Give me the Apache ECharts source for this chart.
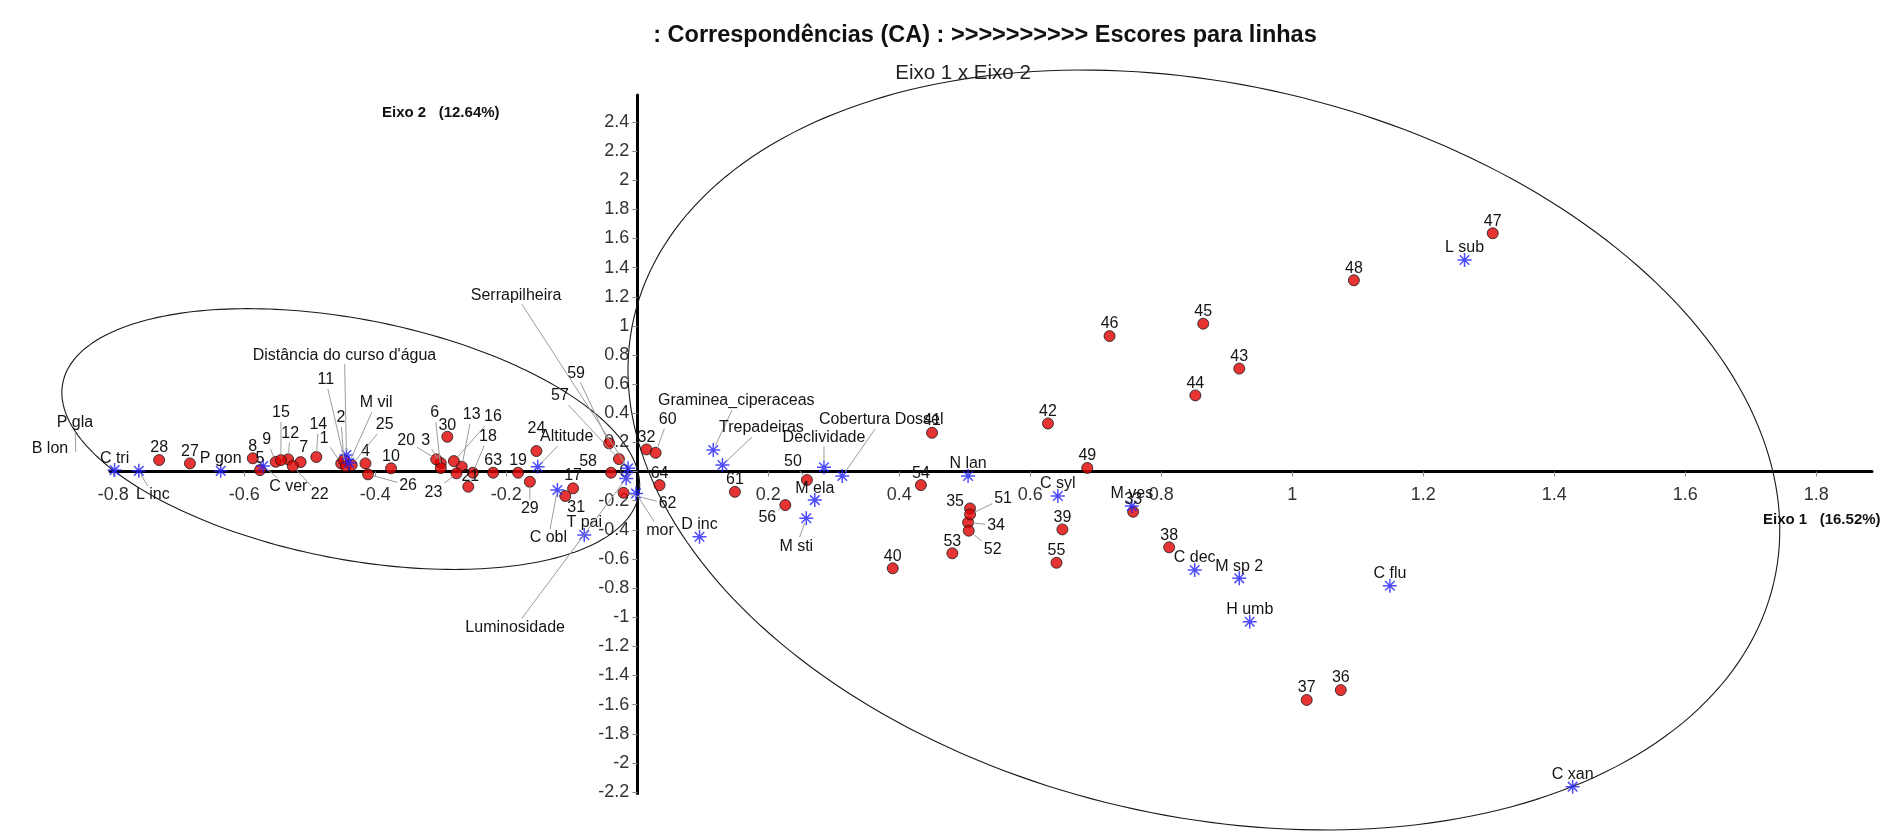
<!DOCTYPE html>
<html>
<head>
<meta charset="utf-8">
<title>Correspondências (CA) — Escores para linhas</title>
<script src="https://cdn.jsdelivr.net/npm/echarts@6/dist/echarts.min.js"></script>
<style>
  html, body { margin: 0; padding: 0; background: #ffffff; }
  #chart { width: 1903px; height: 832px; }
</style>
</head>
<body>
<div id="chart"></div>
<script>
// ---- Row scores (sampling sites) on CA axes 1 and 2 ----
const siteNames = ['1','2','3','4','5','6','7','8','9','10','11','12','13','14','15','16',
  '17','18','19','20','21','22','23','24','25','26','27','28','29','30','31','32',
  '33','34','35','36','37','38','39','40','41','42','43','44','45','46','47','48',
  '49','50','51','52','53','54','55','56','57','58','59','60','61','62','63','64'];
const siteAxis1 = [-0.452,-0.448,-0.300,-0.415,-0.576,-0.300,-0.514,-0.587,-0.552,-0.376,-0.445,-0.533,-0.268,-0.490,-0.544,-0.280,
  -0.098,-0.251,-0.182,-0.307,-0.258,-0.526,-0.276,-0.154,-0.436,-0.411,-0.683,-0.730,-0.164,-0.290,-0.110,0.014,
  0.757,0.505,0.508,1.074,1.022,0.812,0.649,0.390,0.450,0.627,0.919,0.852,0.864,0.721,1.306,1.094,
  0.687,0.259,0.508,0.506,0.481,0.433,0.640,0.226,-0.028,-0.040,-0.043,0.028,0.149,-0.021,-0.220,0.034];
const siteAxis2 = [0.056,0.079,0.058,0.056,0.010,0.024,0.065,0.091,0.067,0.022,0.038,0.084,0.033,0.100,0.079,0.072,
  -0.115,-0.008,-0.008,0.084,-0.104,0.038,-0.012,0.141,0.045,-0.019,0.056,0.079,-0.070,0.239,-0.168,0.152,
  -0.276,-0.349,-0.253,-1.500,-1.568,-0.520,-0.397,-0.664,0.266,0.330,0.707,0.523,1.015,0.930,1.636,1.313,
  0.025,-0.058,-0.294,-0.406,-0.561,-0.093,-0.626,-0.230,0.086,-0.008,0.194,0.129,-0.139,-0.146,-0.008,-0.093];

// ---- Column scores (species and environmental variables) ----
const varNames = ['C tri','L inc','P gon','C ver','P gla','B lon',"Distância do curso d'água",'M vil',
  'Altitude','C obl','T pai','Serrapilheira','Luminosidade','mor','Graminea_ciperaceas','Trepadeiras',
  'D inc','Declividade','Cobertura Dossel','M ela','M sti','N lan','C syl','M ves','C dec','M sp 2',
  'C flu','H umb','C xan','L sub'];
const varAxis1 = [-0.798,-0.761,-0.636,-0.571,-0.857,-0.857,-0.444,-0.440,
  -0.152,-0.122,-0.081,-0.014,-0.017,-0.002,0.116,0.130,
  0.095,0.285,0.313,0.271,0.258,0.505,0.642,0.755,0.851,0.919,
  1.149,0.935,1.428,1.263];
const varAxis2 = [0.010,0.005,0.005,0.038,0.100,0.100,0.113,0.060,
  0.033,-0.127,-0.436,0.022,-0.047,-0.150,0.148,0.045,
  -0.448,0.029,-0.031,-0.196,-0.321,-0.031,-0.168,-0.237,-0.676,-0.733,
  -0.784,-1.031,-2.163,1.452];

// ---- Group ellipses: centre and two conjugate semi-axis vectors (axis units) ----
const ellipseCentreX = [-0.4374, 0.865];
const ellipseCentreY = [0.2231, 0.148];
const ellipseMajor   = [[0.4397, -0.3842], [0.870, -0.911]];
const ellipseMinor   = [[-0.0350, -0.8085], [-0.127, -2.444]];

// ---- Axis extents and tick labels ----
const xMin = -0.805, xMax = 1.885, yMin = -2.21, yMax = 2.585;
const xTicks = [-0.8,-0.6,-0.4,-0.2,0.2,0.4,0.6,0.8,1,1.2,1.4,1.6,1.8];
const yTicks = [2.4,2.2,2,1.8,1.6,1.4,1.2,1,0.8,0.6,0.4,0.2,0,-0.2,-0.4,-0.6,-0.8,-1,-1.2,-1.4,-1.6,-1.8,-2,-2.2];

// ---- Label placement: [dx, dy, leader line] in pixels from the mark ----
const labelPlacement = {
  '9': [-9,-22,1], '15': [0,-47,1], '12': [2,-26,1], '7': [3,-15,0], '14': [2,-32,1],
  '1': [-17,-25,1], '11': [-20,-86,1], '2': [-3,-42,1], "Distância do curso d'água": [-2,-100,1],
  'M vil': [27,-60,1], '25': [33,-40,1], '26': [40,11,1], '22': [27,29,1], '20': [-30,-19,1],
  '3': [-15,-23,1], '6': [-6,-55,1], '30': [0,-11,0], '13': [10,-52,1], '16': [39,-44,1],
  '18': [15,-36,1], '23': [-23,19,1], '29': [0,27,1], '24': [0,-22,0], 'Altitude': [29,-30,1],
  '58': [-23,-11,0], '31': [11,12,0], 'C obl': [-9,48,1], '59': [-33,-70,1], '57': [-59,-63,1],
  'Serrapilheira': [-112,-173,1], 'Luminosidade': [-111,149,1], 'mor': [24,37,1], '62': [44,11,1],
  '60': [12,-33,1], 'Graminea_ciperaceas': [23,-49,1], 'Trepadeiras': [39,-37,1], '56': [-18,13,1],
  '50': [-14,-18,1], 'M sti': [-10,28,1], 'Declividade': [0,-30,1], 'Cobertura Dossel': [39,-56,1],
  '35': [-15,-7,0], '51': [33,-16,1], '34': [28,3,1], '52': [24,19,1], 'L inc': [14,24,1],
  'C ver': [25,21,1], 'P gla': [-1,-34,1], 'B lon': [-26,-8,0], '17': [0,-13,0], '21': [2,-10,0]
};
const defaultPlacement = [0, -12, 0];

const FONT_FAMILY = '"Liberation Sans", Arial, Helvetica, sans-serif';
const LABEL_FONT = '16px ' + FONT_FAMILY;

// plot area (pixels)
const GRID = { left: 110, right: 31, top: 95, bottom: 38.5 };
const PLOT_W = 1903 - GRID.left - GRID.right;
const PLOT_H = 832 - GRID.top - GRID.bottom;
// shift each axis from the plot edge onto the other axis' zero
const xAxisShift = -((0 - yMin) / (yMax - yMin)) * PLOT_H;
const yAxisShift = -((0 - xMin) / (xMax - xMin)) * PLOT_W;

const measureCtx = document.createElement('canvas').getContext('2d');
measureCtx.font = LABEL_FONT;

const sitePoints = siteNames.map((n, i) => [siteAxis1[i], siteAxis2[i]]);
const varPoints = varNames.map((n, i) => [varAxis1[i], varAxis2[i]]);
const labelNames = siteNames.concat(varNames);
const labelPoints = sitePoints.concat(varPoints);
const ellipseRows = ellipseCentreX.map((cx, i) => [cx, ellipseCentreY[i],
  ellipseMajor[i][0], ellipseMajor[i][1], ellipseMinor[i][0], ellipseMinor[i][1]]);

function tickText(v) { return String(+(+v).toFixed(1)); }

function renderEllipse(params, api) {
  const cx = api.value(0), cy = api.value(1);
  const ax = api.value(2), ay = api.value(3), bx = api.value(4), by = api.value(5);
  const pts = [];
  for (let k = 0; k <= 240; k++) {
    const t = (k / 240) * Math.PI * 2;
    const c = Math.cos(t), s = Math.sin(t);
    pts.push(api.coord([cx + ax * c + bx * s, cy + ay * c + by * s]));
  }
  return { type: 'polyline', shape: { points: pts },
    style: { stroke: '#1a1a1a', lineWidth: 1.1, fill: null } };
}

function renderLabel(params, api) {
  const p = api.coord([api.value(0), api.value(1)]);
  const name = labelNames[params.dataIndex];
  const lay = labelPlacement[name] || defaultPlacement;
  const tx = p[0] + lay[0], ty = p[1] + lay[1];
  const children = [];
  if (lay[2]) {
    const hw = measureCtx.measureText(name).width / 2 + 2, hh = 9;
    const dx = p[0] - tx, dy = p[1] - ty;
    const len = Math.hypot(dx, dy) || 1;
    const t = Math.min(hw / Math.max(Math.abs(dx), 1e-6), hh / Math.max(Math.abs(dy), 1e-6), 1);
    children.push({ type: 'line',
      shape: { x1: tx + dx * t, y1: ty + dy * t, x2: p[0] - dx / len * 5, y2: p[1] - dy / len * 5 },
      style: { stroke: '#9c9c9c', lineWidth: 1 } });
  }
  children.push({ type: 'text', x: tx, y: ty,
    style: { text: name, font: LABEL_FONT, fill: '#141414', align: 'center', verticalAlign: 'middle' } });
  return { type: 'group', children: children };
}

const chart = echarts.init(document.getElementById('chart'), null, { renderer: 'canvas' });
chart.setOption({
  animation: false,
  backgroundColor: '#ffffff',
  grid: { left: GRID.left, right: GRID.right, top: GRID.top, bottom: GRID.bottom, containLabel: false },
  xAxis: {
    type: 'value', min: xMin, max: xMax, position: 'bottom', offset: xAxisShift,
    axisLine: { onZero: false, lineStyle: { color: '#000', width: 3 } },
    axisTick: { show: true, length: 5, customValues: xTicks, lineStyle: { color: '#8a8a8a', width: 1 } },
    axisLabel: { customValues: xTicks, formatter: tickText, color: '#333', fontSize: 18,
      fontFamily: FONT_FAMILY, margin: 14 },
    splitLine: { show: false }
  },
  yAxis: {
    type: 'value', min: yMin, max: yMax, position: 'left', offset: yAxisShift,
    axisLine: { onZero: false, lineStyle: { color: '#000', width: 3 } },
    axisTick: { show: true, length: 5, customValues: yTicks, lineStyle: { color: '#8a8a8a', width: 1 } },
    axisLabel: { customValues: yTicks, formatter: tickText, color: '#333', fontSize: 18,
      fontFamily: FONT_FAMILY, margin: 8 },
    splitLine: { show: false }
  },
  graphic: [
    { type: 'text', x: 985, y: 36, style: { text: ': Correspondências (CA) : >>>>>>>>>> Escores para linhas',
      font: 'bold 23.5px ' + FONT_FAMILY, fill: '#111', align: 'center', verticalAlign: 'middle' } },
    { type: 'text', x: 963, y: 73, style: { text: 'Eixo 1 x Eixo 2',
      font: '20.5px ' + FONT_FAMILY, fill: '#222', align: 'center', verticalAlign: 'middle' } },
    { type: 'text', x: 382, y: 113, style: { text: 'Eixo 2   (12.64%)',
      font: 'bold 15px ' + FONT_FAMILY, fill: '#111', align: 'left', verticalAlign: 'middle' } },
    { type: 'text', x: 1763, y: 520, style: { text: 'Eixo 1   (16.52%)',
      font: 'bold 15px ' + FONT_FAMILY, fill: '#111', align: 'left', verticalAlign: 'middle' } }
  ],
  series: [
    { name: 'ellipses', type: 'custom', coordinateSystem: 'cartesian2d', renderItem: renderEllipse,
      data: ellipseRows, encode: { x: 0, y: 1 }, silent: true, z: 1 },
    { name: 'linhas', type: 'scatter', data: sitePoints, symbol: 'circle', symbolSize: 11,
      itemStyle: { color: '#e00000', borderColor: '#1a1a1a', borderWidth: 1 }, z: 3 },
    { name: 'colunas', type: 'scatter', data: varPoints, symbolSize: 14,
      symbol: 'path://M5 0L5 10M0 5L10 5M1.6 1.6L8.4 8.4M8.4 1.6L1.6 8.4',
      itemStyle: { color: 'rgba(0,0,0,0)', borderColor: '#2020ff', borderWidth: 1.5 }, z: 4 },
    { name: 'rótulos', type: 'custom', coordinateSystem: 'cartesian2d', renderItem: renderLabel,
      data: labelPoints, encode: { x: 0, y: 1 }, silent: true, z: 5 }
  ]
});
</script>
</body>
</html>
